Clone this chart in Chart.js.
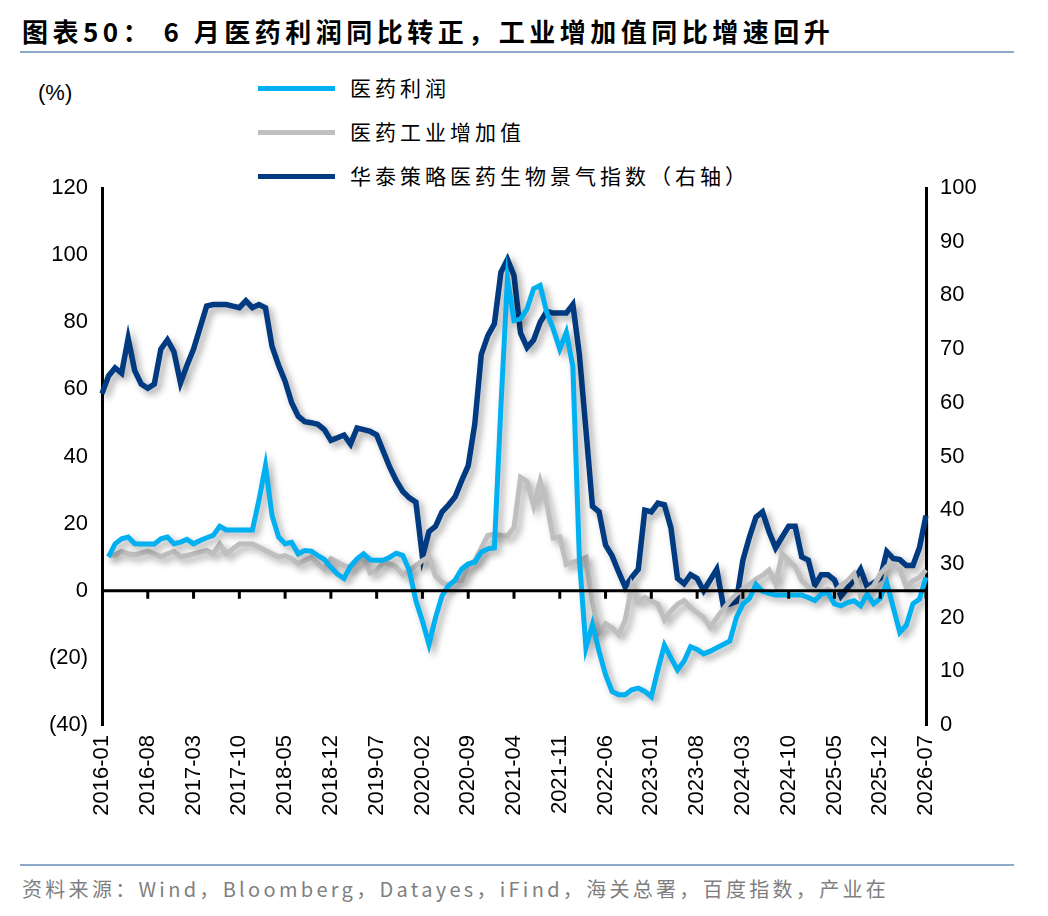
<!DOCTYPE html>
<html><head><meta charset="utf-8">
<script src="https://cdn.jsdelivr.net/npm/chart.js@4"></script>
<style>
body{margin:0;width:1048px;height:916px;background:#fff;position:relative;overflow:hidden;font-family:"Liberation Sans",Arial,sans-serif}
#title{position:absolute;left:22px;top:12px;font:bold 26px "Noto Sans CJK SC";color:#000;letter-spacing:4.5px}
#tl{position:absolute;left:20px;top:51px;width:994px;height:2px;background:#8DA9C9}
#bl{position:absolute;left:20px;top:864px;width:994px;height:2px;background:#8DA9C9}
#src{position:absolute;left:22px;top:874px;font:20px "Noto Sans CJK SC";color:#7f7f7f;letter-spacing:3.3px}
#pct{position:absolute;left:38px;top:80px;font:22px "Liberation Sans";color:#000}
.lg{position:absolute;left:258px;font:21px "Noto Sans CJK SC";color:#000;letter-spacing:4px}
.lg span{display:inline-block;width:77px;height:5px;vertical-align:middle;margin-right:15px;position:relative;top:-2px}
canvas{position:absolute;left:0;top:0}
</style></head><body>
<div id="title">图表50： 6 月医药利润同比转正，工业增加值同比增速回升</div>
<div id="tl"></div>
<div id="pct">(%)</div>
<div class="lg" style="top:72px"><span style="background:#00B0F0"></span>医药利润</div>
<div class="lg" style="top:116px"><span style="background:#BFBFBF"></span>医药工业增加值</div>
<div class="lg" style="top:160px"><span style="background:#003A80"></span>华泰策略医药生物景气指数（右轴）</div>
<div id="bl"></div>
<div id="src">资料来源：Wind，Bloomberg，Datayes，iFind，海关总署，百度指数，产业在</div>
<canvas id="c" width="1048" height="916"></canvas>
<script>
const startYear=2016, nMonths=127;
const months=[];
for(let i=0;i<nMonths;i++){const y=startYear+Math.floor(i/12),m=i%12+1;months.push(y+'-'+String(m).padStart(2,'0'));}
const profit=[null,10.1,14,15.5,16,14,13.9,13.9,13.9,15.5,16,14,14.5,15.3,14,15,15.8,16.5,19.2,18.1,18.1,18.1,18.1,18.1,27,37.3,22.4,16,14,14.4,11,12,11.8,10.5,9.3,7,5,3.7,7.3,9.5,11,9.2,9.1,9.1,10,11.2,10.5,6,-3,-9,-16,-8,-1.5,1.5,3.2,6.5,8,8.5,11.5,12.5,12.8,55,93,80.5,81,84,90,91,83,78,72,77,66.8,9.4,-17,-10,-18,-25,-30,-31,-31,-29.5,-29,-30,-31.6,-23.6,-16.2,-20,-23.6,-21,-16.7,-17.5,-18.8,-18,-17,-16,-15,-8,-4,-2.3,1.9,-0.2,-0.8,-1.3,-1.3,-1.3,-1.3,-1.3,-2,-2.9,-1,-0.5,-3.9,-4.5,-3.5,-3,-4.5,-1,-3.9,-2.3,2.4,-5,-12.4,-10.3,-3.9,-2.5,4];
const valueAdded=[null,10.5,10.7,11.7,11,10.7,11.2,11.7,11,10.1,11,11.7,10.1,10.5,11,11.5,12,11,13.9,11,12.5,13.9,13.9,13.9,13,12,11,10.1,10.5,9.5,8,9,10,8,6.4,9.6,8.5,7.5,6.9,8.5,10,5.3,6,8.5,8,7,4.8,6,7.5,9,10.1,4.3,2.5,1.6,3,3,7.5,9,12.8,16.5,16.8,16.5,16.3,18.9,33.8,32.5,25.3,32.8,26,15.7,16,7.8,8.5,9,9.9,-3.4,-12.4,-9.8,-11,-13,-8.7,1.4,-3.4,-2,-3,-4,-8.7,-6,-4,-2.9,-5,-6.5,-8,-10.9,-8,-5.5,-3,-1,0.5,1.9,3.5,4.6,6.2,2,11,9,7.2,3,1.2,0,-0.5,0.5,-0.5,1.5,3,5.1,-1.5,0,1.5,5,7.2,7.5,6.5,1,3,4,6.2];
const sentiment=[61.7,65,66.5,65.5,72,66,63.5,62.7,63.5,70,71.7,69.5,63.7,67,70,74,78,78.3,78.3,78.3,78,77.7,79,77.7,78.3,77.7,70.5,67,64,60,57.5,56.5,56.3,56,55,53,53.5,54,52.3,55.3,55,54.7,54,51,48,45.5,43.5,42.3,41.5,31.3,36,37,39.7,41,42.5,45.5,48.3,56,69,72.5,74.7,84.3,86.7,83.7,73,70.3,71.7,75,77,76.7,76.7,76.7,78.3,69,55,40.7,39.7,33.5,31.5,28.5,25.7,27.5,29,40,39.7,41.3,41,36.7,27.3,26.3,28,27.3,25,27,29,22.3,22.5,23,30.7,35,38.7,39.7,36,33,35,37,37,31.3,30.7,26,28,28,27,24,25.5,27,29,25.7,26.5,27.3,32.3,31,30.8,29.7,29.7,33,39];
const labelEvery=7;
const font={family:'"Liberation Sans",Arial',size:22};
const zeroTicks={id:'zt',afterDraw(ch){const c=ch.ctx,x=ch.scales.x,y=ch.scales.y;const y0=y.getPixelForValue(0);c.save();c.strokeStyle='#000';c.lineWidth=3;c.beginPath();c.moveTo(ch.chartArea.left,y0);c.lineTo(ch.chartArea.right,y0);
for(let i=labelEvery;i<nMonths;i+=labelEvery){const px=x.getPixelForValue(i);c.moveTo(px,y0);c.lineTo(px,y0+8);}c.stroke();c.restore();}};
const shadow={id:'sh',beforeDatasetDraw(ch){const c=ch.ctx;c.save();c.shadowColor='rgba(0,0,0,0.35)';c.shadowBlur=7;c.shadowOffsetX=4;c.shadowOffsetY=4;},afterDatasetDraw(ch){ch.ctx.restore();}};
new Chart(document.getElementById('c'),{type:'line',
data:{labels:months,datasets:[
{data:sentiment,yAxisID:'y1',borderColor:'#003A80',borderWidth:5.5,pointRadius:0,tension:0,order:3},
{data:valueAdded,yAxisID:'y',borderColor:'#BFBFBF',borderWidth:5,pointRadius:0,tension:0,order:2},
{data:profit,yAxisID:'y',borderColor:'#00B0F0',borderWidth:5,pointRadius:0,tension:0,order:1}]},
options:{responsive:false,animation:false,layout:{padding:{top:188,left:0,right:0,bottom:0}},
plugins:{legend:{display:false},tooltip:{enabled:false}},
scales:{
x:{offset:false,grid:{display:false,drawTicks:false},border:{display:false},afterFit(s){s.height=916-725;},
ticks:{autoSkip:false,maxRotation:90,minRotation:90,color:'#000',font,padding:10,callback:(v,i)=>i%labelEvery===0?months[i]:''}},
y:{position:'left',min:-40,max:120,afterFit(s){s.width=102;},grid:{display:false,drawTicks:true,tickLength:8,tickColor:'#000',tickWidth:3},border:{display:true,color:'#000',width:3},
ticks:{stepSize:20,color:'#000',font,padding:6,callback:v=>v<0?'('+(-v)+')':v}},
y1:{position:'right',min:0,max:100,afterFit(s){s.width=1048-926;},grid:{display:false,drawTicks:true,tickLength:8,tickColor:'#000',tickWidth:3},border:{display:true,color:'#000',width:3},
ticks:{stepSize:10,color:'#000',font,padding:6}}}},
plugins:[shadow,zeroTicks]});
</script></body></html>
